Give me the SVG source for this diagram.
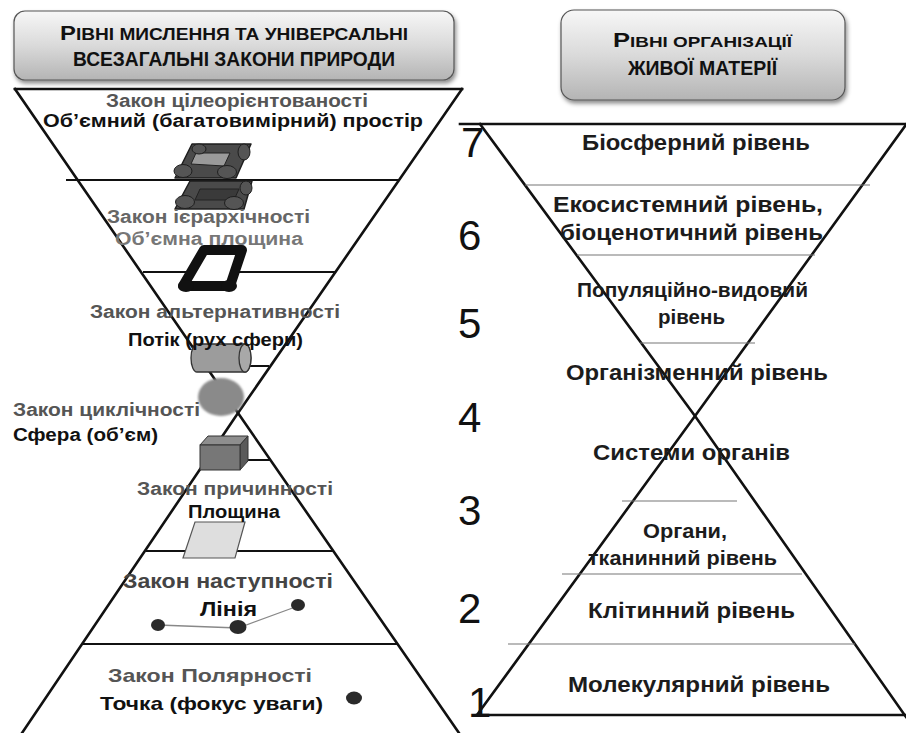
<svg xmlns="http://www.w3.org/2000/svg" width="906" height="733" viewBox="0 0 906 733">
  <defs>
    <linearGradient id="titleFill" x1="0" y1="0" x2="0" y2="1">
      <stop offset="0" stop-color="#f7f7f7"/>
      <stop offset="0.5" stop-color="#dadada"/>
      <stop offset="1" stop-color="#b4b4b4"/>
    </linearGradient>
    <filter id="shadow" x="-10%" y="-20%" width="120%" height="150%">
      <feDropShadow dx="1.5" dy="3" stdDeviation="2" flood-color="#000" flood-opacity="0.45"/>
    </filter>
    <filter id="soft" x="-30%" y="-30%" width="160%" height="160%">
      <feGaussianBlur stdDeviation="1.3"/>
    </filter>
    <style>
      .title { font-family: "Liberation Sans Narrow", "Liberation Sans", Arial, sans-serif; font-weight: bold; fill: #111; }
      .law { font-family: "Liberation Sans", Arial, sans-serif; font-weight: bold; font-size: 18px; fill: #555; }
      .geo { font-family: "Liberation Sans", Arial, sans-serif; font-weight: bold; font-size: 18px; fill: #111; }
      .lvl { font-family: "Liberation Sans", Arial, sans-serif; font-weight: bold; font-size: 22.5px; fill: #1c1c1c; }
      .num { font-family: "Liberation Sans", Arial, sans-serif; font-size: 42px; fill: #111; }
      .edge { stroke: #111; stroke-width: 2.6; fill: none; stroke-linecap: square; }
      .tier { stroke: #111; stroke-width: 2; fill: none; }
      .thin { stroke: #777; stroke-width: 1.2; fill: none; }
      .dot { fill: #2a2a2a; }
      .roll { fill: #555; stroke: #1e1e1e; stroke-width: 1; }
    </style>
  </defs>

  <rect width="906" height="733" fill="#fff"/>

  <!-- title boxes -->
  <g id="left-title">
    <rect x="14" y="11" width="440" height="69" rx="11" fill="url(#titleFill)" stroke="#555" stroke-width="1.2" filter="url(#shadow)"/>
    <text class="title" x="60" y="40" textLength="348" lengthAdjust="spacingAndGlyphs"><tspan font-size="20">Р</tspan><tspan font-size="16">ІВНІ МИСЛЕННЯ ТА УНІВЕРСАЛЬНІ</tspan></text>
    <text class="title" x="73" y="66" font-size="21" textLength="322" lengthAdjust="spacingAndGlyphs">ВСЕЗАГАЛЬНІ ЗАКОНИ ПРИРОДИ</text>
  </g>
  <g id="right-title">
    <rect x="561" y="10" width="284" height="90" rx="13" fill="url(#titleFill)" stroke="#555" stroke-width="1.2" filter="url(#shadow)"/>
    <text class="title" x="613" y="47" textLength="179" lengthAdjust="spacingAndGlyphs"><tspan font-size="21">Р</tspan><tspan font-size="15.5">ІВНІ ОРГАНІЗАЦІЇ</tspan></text>
    <text class="title" x="628" y="75" font-size="19.5" textLength="149" lengthAdjust="spacingAndGlyphs">ЖИВОЇ МАТЕРІЇ</text>
  </g>

  <!-- left hourglass outline and tiers -->
  <g id="thinking-hourglass">
    <line class="edge" x1="15" y1="89" x2="462" y2="89"/>
    <polyline class="edge" points="15,89 238,413 459,733"/>
    <polyline class="edge" points="462,89 238,413 22,733"/>
    <line class="tier" x1="66" y1="180" x2="399" y2="180"/>
    <line class="tier" x1="143" y1="272" x2="335" y2="272"/>
    <line class="tier" x1="206" y1="366" x2="269" y2="366"/>
    <line class="tier" x1="206" y1="460" x2="270" y2="460"/>
    <line class="tier" x1="146" y1="551" x2="334" y2="551"/>
    <line class="tier" x1="83" y1="644" x2="397" y2="644"/>
  </g>

  <!-- right hourglass outline and tiers -->
  <g id="matter-hourglass">
    <line class="edge" x1="460" y1="124" x2="906" y2="124"/>
    <polyline class="edge" points="480,124 695,416 906,717"/>
    <polyline class="edge" points="908,122 695,416 477,715"/>
    <line class="edge" x1="477" y1="715" x2="906" y2="715"/>
    <line class="thin" x1="525" y1="185" x2="870" y2="185"/>
    <line class="thin" x1="577" y1="255" x2="815" y2="255"/>
    <line class="thin" x1="640" y1="343" x2="755" y2="343"/>
    <line class="thin" x1="622" y1="501" x2="737" y2="501"/>
    <line class="thin" x1="562" y1="574" x2="802" y2="574"/>
    <line class="thin" x1="508" y1="644" x2="855" y2="644"/>
  </g>

  <!-- level numbers -->
  <g id="level-numbers">
    <text class="num" x="461" y="157">7</text>
    <text class="num" x="458" y="250">6</text>
    <text class="num" x="458" y="338">5</text>
    <text class="num" x="458" y="432">4</text>
    <text class="num" x="458" y="525">3</text>
    <text class="num" x="458" y="623">2</text>
    <text class="num" x="468" y="717">1</text>
  </g>

  <!-- links between points of the line -->
  <g id="links">
    <polyline points="158,625 238,628 298,606" fill="none" stroke="#888" stroke-width="1.3"/>
  </g>

  <!-- law: purpose / multidimensional space -->
  <g id="law-purpose">
    <path d="M192,144 L251,144 L236,178 L175,178 Z" fill="#4a4a4a" stroke="#1e1e1e" stroke-width="1.5" stroke-linejoin="round"/>
    <path d="M196,153 L230,153 L224,166 L191,164 Z" fill="#9a9a9a" stroke="#222" stroke-width="1"/>
    <ellipse class="roll" cx="183" cy="171" rx="9" ry="6.5"/>
    <ellipse class="roll" cx="227" cy="172" rx="9.5" ry="6.5"/>
    <ellipse class="roll" cx="244" cy="152" rx="6" ry="8"/>
    <ellipse class="roll" cx="199" cy="149" rx="7" ry="5"/>
    <text class="law" x="106" y="107" textLength="262" lengthAdjust="spacingAndGlyphs">Закон цілеорієнтованості</text>
    <text class="geo" x="43" y="127" textLength="380" lengthAdjust="spacingAndGlyphs">Об’ємний (багатовимірний) простір</text>
  </g>

  <!-- law: hierarchy / volumetric plane -->
  <g id="law-hierarchy">
    <path d="M190,181 L252,181 L244,209 L175,209 Z" fill="#4a4a4a" stroke="#1e1e1e" stroke-width="1.5" stroke-linejoin="round"/>
    <path d="M200,189 L239,189 L234,200 L195,200 Z" fill="#3a3a3a" stroke="#222" stroke-width="1"/>
    <ellipse class="roll" cx="185" cy="202" rx="9.5" ry="6.5"/>
    <ellipse class="roll" cx="234" cy="203" rx="9.5" ry="6.5"/>
    <ellipse class="roll" cx="246" cy="188" rx="6" ry="7"/>
    <path d="M204,250 L242,250 L230,286 L183,286 Z" fill="#fff" stroke="#111" stroke-width="10" stroke-linejoin="round"/>
    <ellipse cx="186" cy="286" rx="8" ry="6" fill="#111"/>
    <ellipse cx="229" cy="286" rx="8" ry="6" fill="#111"/>
    <text class="law" x="107" y="223" textLength="203" lengthAdjust="spacingAndGlyphs" style="fill:#666">Закон ієрархічності</text>
    <text class="law" x="115" y="245" textLength="188" lengthAdjust="spacingAndGlyphs" style="fill:#777">Об’ємна площина</text>
  </g>

  <!-- law: alternatives / flow -->
  <g id="law-alternative">
    <path d="M197,344 L245,344 A6,14 0 0 1 245,372 L197,372 A6,14 0 0 1 197,344 Z" fill="#9c9c9c" stroke="#333" stroke-width="1.3"/>
    <ellipse cx="245" cy="358" rx="6" ry="14" fill="#a8a8a8" stroke="#333" stroke-width="1.3"/>
    <text class="law" x="90" y="318" textLength="250" lengthAdjust="spacingAndGlyphs">Закон альтернативності</text>
    <text class="geo" x="128" y="346" textLength="175" lengthAdjust="spacingAndGlyphs">Потік (рух сфери)</text>
  </g>

  <!-- law: cycles / sphere -->
  <g id="law-cycle">
    <ellipse cx="221" cy="397" rx="23" ry="19" fill="#8a8a8a" filter="url(#soft)"/>
    <text class="law" x="13" y="416" textLength="187" lengthAdjust="spacingAndGlyphs">Закон циклічності</text>
    <text class="geo" x="13" y="441" textLength="145" lengthAdjust="spacingAndGlyphs">Сфера (об’єм)</text>
  </g>

  <!-- law: causality / plane -->
  <g id="law-cause">
    <path d="M200,445 L208,436 L248,436 L240,445 Z" fill="#8e8e8e" stroke="#333" stroke-width="1"/>
    <path d="M240,445 L248,436 L248,461 L240,470 Z" fill="#5a5a5a" stroke="#333" stroke-width="1"/>
    <rect x="200" y="445" width="40" height="25" fill="#777" stroke="#333" stroke-width="1"/>
    <path d="M195,522 L245,522 L235,558 L183,558 Z" fill="#dedede" stroke="#555" stroke-width="1.2"/>
    <text class="law" x="137" y="495" textLength="196" lengthAdjust="spacingAndGlyphs">Закон причинності</text>
    <text class="geo" x="188" y="518" textLength="92" lengthAdjust="spacingAndGlyphs">Площина</text>
  </g>

  <!-- law: succession / line -->
  <g id="law-succession">
    <ellipse class="dot" cx="158" cy="625" rx="7" ry="6"/>
    <ellipse class="dot" cx="238" cy="627" rx="8.5" ry="7"/>
    <ellipse class="dot" cx="298" cy="605" rx="7" ry="6"/>
    <text class="law" x="123" y="588" textLength="210" lengthAdjust="spacingAndGlyphs" style="fill:#444;font-size:20px">Закон наступності</text>
    <text class="geo" x="200" y="616" textLength="57" lengthAdjust="spacingAndGlyphs" style="font-size:20px">Лінія</text>
  </g>

  <!-- law: polarity / point -->
  <g id="law-polarity">
    <ellipse class="dot" cx="354" cy="698" rx="8" ry="6.5"/>
    <text class="law" x="108" y="682" textLength="204" lengthAdjust="spacingAndGlyphs" style="font-size:19px">Закон Полярності</text>
    <text class="geo" x="100" y="710" textLength="223" lengthAdjust="spacingAndGlyphs" style="font-size:19px">Точка (фокус уваги)</text>
  </g>

  <!-- levels of living matter -->
  <g id="level-biosphere"><text class="lvl" x="582" y="150" textLength="228" lengthAdjust="spacingAndGlyphs">Біосферний рівень</text></g>
  <g id="level-ecosystem">
    <text class="lvl" x="553" y="212" textLength="270" lengthAdjust="spacingAndGlyphs">Екосистемний рівень,</text>
    <text class="lvl" x="560" y="240" textLength="263" lengthAdjust="spacingAndGlyphs">біоценотичний рівень</text>
  </g>
  <g id="level-population">
    <text class="lvl" x="577" y="297" textLength="231" lengthAdjust="spacingAndGlyphs" style="font-size:20px">Популяційно-видовий</text>
    <text class="lvl" x="658" y="324" textLength="67" lengthAdjust="spacingAndGlyphs" style="font-size:20px">рівень</text>
  </g>
  <g id="level-organism"><text class="lvl" x="566" y="380" textLength="262" lengthAdjust="spacingAndGlyphs">Організменний рівень</text></g>
  <g id="level-organ-systems"><text class="lvl" x="593" y="460" textLength="197" lengthAdjust="spacingAndGlyphs">Системи органів</text></g>
  <g id="level-organs">
    <text class="lvl" x="643" y="538" textLength="84" lengthAdjust="spacingAndGlyphs" style="font-size:20px">Органи,</text>
    <text class="lvl" x="588" y="565" textLength="189" lengthAdjust="spacingAndGlyphs" style="font-size:20px">тканинний рівень</text>
  </g>
  <g id="level-cell"><text class="lvl" x="588" y="618" textLength="207" lengthAdjust="spacingAndGlyphs">Клітинний рівень</text></g>
  <g id="level-molecular"><text class="lvl" x="568" y="692" textLength="262" lengthAdjust="spacingAndGlyphs">Молекулярний рівень</text></g>
</svg>
